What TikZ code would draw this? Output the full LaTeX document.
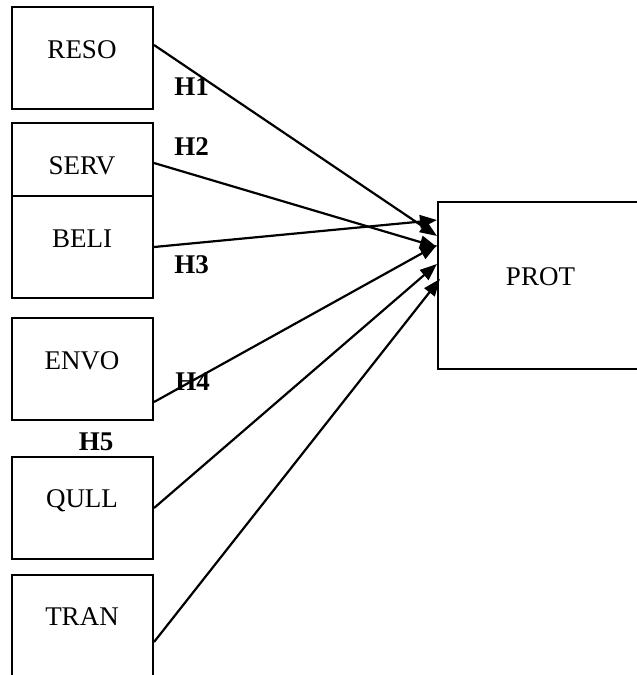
\documentclass[tikz,border=0pt]{standalone}
\usepackage{fontspec}
\setmainfont{Liberation Serif}
\usetikzlibrary{arrows.meta}
\tikzset{
  box/.style={draw, line width=2.1pt, rectangle, inner sep=0pt},
  lbl/.style={inner sep=0pt, text height=18pt, text depth=0pt, font=\fontsize{27}{30}\selectfont},
  hyp/.style={inner sep=0pt, text height=18pt, text depth=0pt, font=\fontsize{27}{30}\selectfont\bfseries},
  link/.style={line width=2.2pt, -{Triangle[length=17pt,width=13pt]}}
}
\begin{document}
\begin{tikzpicture}[x=1pt,y=-1pt]
\useasboundingbox (0,0) rectangle (637,675);
% boxes
\node[box, minimum width=141pt, minimum height=102pt] (reso) at (82.5,58) {};
\node[box, minimum width=141pt, minimum height=73pt] (serv) at (82.5,159.5) {};
\node[box, minimum width=141pt, minimum height=102pt] (beli) at (82.5,247) {};
\node[box, minimum width=141pt, minimum height=102pt] (envo) at (82.5,369) {};
\node[box, minimum width=141pt, minimum height=102pt] (qull) at (82.5,508) {};
\node[box, minimum width=141pt, minimum height=102pt] (tran) at (82.5,626) {};
\node[box, minimum width=204pt, minimum height=167pt] (prot) at (540,285.5) {};
% box texts
\node[lbl] (resot) at (82,49) {RESO};
\node[lbl] (servt) at (82,165.5) {SERV};
\node[lbl] (belit) at (82,238) {BELI};
\node[lbl] (envot) at (82,360) {ENVO};
\node[lbl] (qullt) at (82,498.5) {QULL};
\node[lbl] (trant) at (82,616) {TRAN};
\node[lbl] (prott) at (540.5,276) {PROT};
% connectors
\draw[link] (reso.east |- 0,45) -- (prot.west |- 0,236);
\draw[link] (serv.east |- 0,163) -- (prot.west |- 0,247);
\draw[link] (beli.east |- 0,247) -- (prot.west |- 0,220);
\draw[link] (envo.east |- 0,402) -- (prot.west |- 0,245);
\draw[link] (qull.east |- 0,508) -- (prot.west |- 0,264);
\draw[link] (tran.east |- 0,642) -- ([xshift=3pt]prot.west |- 0,279);
% hypothesis labels
\node[hyp] (h1) at (191.5,86) {H1};
\node[hyp] (h2) at (191.5,146) {H2};
\node[hyp] (h3) at (191.5,264.5) {H3};
\node[hyp] (h4) at (192.5,381.5) {H4};
\node[hyp] (h5) at (96,441.5) {H5};
\end{tikzpicture}
\end{document}
